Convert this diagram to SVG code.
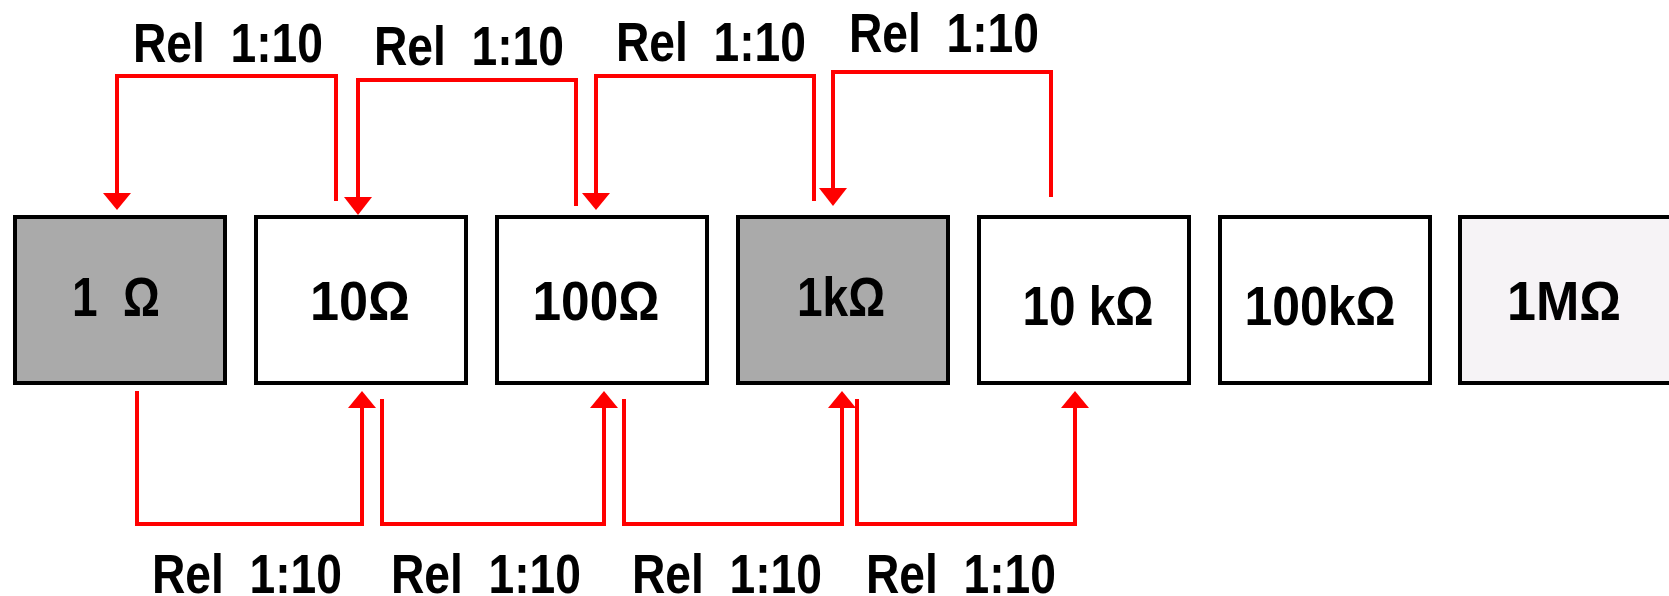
<svg xmlns="http://www.w3.org/2000/svg" width="1669" height="596" viewBox="0 0 1669 596">
<style>
.box{stroke:#000;stroke-width:4;fill:#fff}
.grey{fill:#aaaaaa}
.light{fill:#f6f3f6}
.t{font-family:"Liberation Sans",Arial,sans-serif;font-weight:bold;font-size:56px;fill:#000;text-anchor:middle;white-space:pre}
.c{fill:none;stroke:#ff0000;stroke-width:4}
.a{fill:#ff0000}
</style>
<rect width="1669" height="596" fill="#fff"/>
<g id="n1"><rect class="box grey" x="15" y="217" width="210" height="166"/><text class="t" x="116" y="316" textLength="88" lengthAdjust="spacingAndGlyphs">1  Ω</text></g>
<g id="n2"><rect class="box" x="256" y="217" width="210" height="166"/><text class="t" x="360" y="320" textLength="100" lengthAdjust="spacingAndGlyphs">10Ω</text></g>
<g id="n3"><rect class="box" x="497" y="217" width="210" height="166"/><text class="t" x="596" y="320" textLength="127" lengthAdjust="spacingAndGlyphs">100Ω</text></g>
<g id="n4"><rect class="box grey" x="738" y="217" width="210" height="166"/><text class="t" x="841" y="316" textLength="88" lengthAdjust="spacingAndGlyphs">1kΩ</text></g>
<g id="n5"><rect class="box" x="979" y="217" width="210" height="166"/><text class="t" x="1088" y="325" textLength="131" lengthAdjust="spacingAndGlyphs">10 kΩ</text></g>
<g id="n6"><rect class="box" x="1220" y="217" width="210" height="166"/><text class="t" x="1320" y="325" textLength="151" lengthAdjust="spacingAndGlyphs">100kΩ</text></g>
<g id="n7"><rect class="box light" x="1460" y="217" width="230" height="166"/><text class="t" x="1564" y="320" textLength="114" lengthAdjust="spacingAndGlyphs">1MΩ</text></g>
<g id="connectors">
<path class="c" d="M336 201V76H117V196"/>
<path class="c" d="M576 206V80H358V199"/>
<path class="c" d="M814 201V76H596V196"/>
<path class="c" d="M1051 197V72H833V191"/>
<polygon class="a" points="103,193 131,193 117,210"/>
<polygon class="a" points="344,197 372,197 358,215"/>
<polygon class="a" points="582,193 610,193 596,210"/>
<polygon class="a" points="819,188 847,188 833,206"/>
<path class="c" d="M137 391V524H362V406"/>
<path class="c" d="M382 399V524H604V406"/>
<path class="c" d="M624 399V524H842V406"/>
<path class="c" d="M857 399V524H1075V406"/>
<polygon class="a" points="348,408 376,408 362,391"/>
<polygon class="a" points="590,408 618,408 604,391"/>
<polygon class="a" points="828,408 856,408 842,391"/>
<polygon class="a" points="1061,408 1089,408 1075,391"/>
<text class="t" x="228" y="62" textLength="190" lengthAdjust="spacingAndGlyphs">Rel  1:10</text>
<text class="t" x="469" y="65" textLength="190" lengthAdjust="spacingAndGlyphs">Rel  1:10</text>
<text class="t" x="711" y="61" textLength="190" lengthAdjust="spacingAndGlyphs">Rel  1:10</text>
<text class="t" x="944" y="52" textLength="190" lengthAdjust="spacingAndGlyphs">Rel  1:10</text>
<text class="t" x="247" y="593" textLength="190" lengthAdjust="spacingAndGlyphs">Rel  1:10</text>
<text class="t" x="486" y="593" textLength="190" lengthAdjust="spacingAndGlyphs">Rel  1:10</text>
<text class="t" x="727" y="593" textLength="190" lengthAdjust="spacingAndGlyphs">Rel  1:10</text>
<text class="t" x="961" y="593" textLength="190" lengthAdjust="spacingAndGlyphs">Rel  1:10</text>
</g>
</svg>
